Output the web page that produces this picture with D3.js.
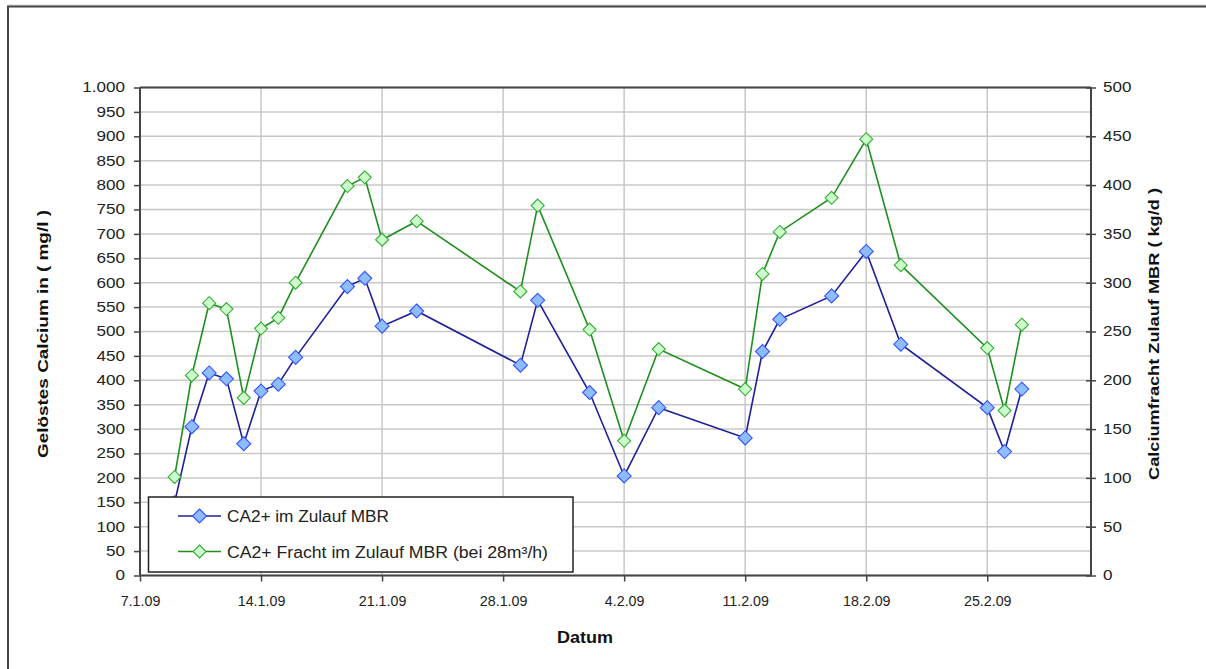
<!DOCTYPE html>
<html>
<head>
<meta charset="utf-8">
<script src="https://cdn.jsdelivr.net/npm/d3@7"></script>
<style>
  html, body { margin: 0; padding: 0; background: #fff; }
  svg { display: block; font-family: "Liberation Sans", Arial, sans-serif; }
</style>
</head>
<body>
<svg id="chart" width="1206" height="669"></svg>
<script>
// ---- data ----
const dates = ["2009-01-09","2009-01-10","2009-01-11","2009-01-12","2009-01-13","2009-01-14","2009-01-15","2009-01-16",
  "2009-01-19","2009-01-20","2009-01-21","2009-01-23","2009-01-29","2009-01-30","2009-02-02","2009-02-04","2009-02-06",
  "2009-02-11","2009-02-12","2009-02-13","2009-02-16","2009-02-18","2009-02-20","2009-02-25","2009-02-26","2009-02-27"];
const concentration = [149, 305, 415, 403, 270, 378, 392, 447, 592, 609, 511, 542, 431, 564, 375, 204, 344,
  282, 459, 525, 573, 664, 474, 344, 254, 382];
const load = [101, 205, 279, 273, 182, 253, 264, 300, 399, 408, 344, 363, 291, 379, 252, 138, 232,
  191, 309, 352, 387, 447, 318, 233, 169, 257];
const xTickLabels = ["7.1.09","14.1.09","21.1.09","28.1.09","4.2.09","11.2.09","18.2.09","25.2.09"];
const leftTicks = [0,50,100,150,200,250,300,350,400,450,500,550,600,650,700,750,800,850,900,950,1000];
const rightTicks = [0,50,100,150,200,250,300,350,400,450,500];
const seriesNames = ["CA2+ im Zulauf MBR", "CA2+ Fracht im Zulauf MBR (bei 28m³/h)"];
const titles = { x: "Datum", yLeft: "Gelöstes Calcium in ( mg/l )", yRight: "Calciumfracht Zulauf MBR ( kg/d )" };

// ---- layout ----
const svg = d3.select("#chart");
const L = 140, R = 1091, T = 87.5, B = 575.5;
const parse = d3.timeParse("%Y-%m-%d");
const x = d3.scaleTime().domain([parse("2009-01-07"), parse("2009-03-03")]).range([L, R]);
const yL = d3.scaleLinear().domain([0, 1000]).range([B, T]);
const yR = d3.scaleLinear().domain([0, 500]).range([B, T]);
const tickDates = d3.timeDay.range(parse("2009-01-07"), parse("2009-03-01"), 7);

// outer frame
svg.append("line").attr("x1", 8).attr("x2", 1206).attr("y1", 5).attr("y2", 5).attr("stroke", "#ccc").attr("stroke-width", 1);
svg.append("rect").attr("x", 8).attr("y", 6.5).attr("width", 1220).attr("height", 700)
  .attr("fill", "none").attr("stroke", "#444").attr("stroke-width", 2);

// gridlines
const g = svg.append("g");
g.selectAll("line.h").data(leftTicks).join("line")
  .attr("x1", L).attr("x2", R).attr("y1", d => yL(d)).attr("y2", d => yL(d))
  .attr("stroke", "#c8c8c8").attr("stroke-width", 1.5);
g.selectAll("line.v").data(tickDates.slice(1)).join("line")
  .attr("x1", d => x(d)).attr("x2", d => x(d)).attr("y1", T).attr("y2", B)
  .attr("stroke", "#c8c8c8").attr("stroke-width", 1.5);
g.append("line").attr("x1", L).attr("x2", R).attr("y1", T).attr("y2", T).attr("stroke", "#444").attr("stroke-width", 2);

// axes
const fmtL = d => d === 1000 ? "1.000" : String(d);
const axL = svg.append("g").attr("transform", `translate(${L},0)`)
  .call(d3.axisLeft(yL).tickValues(leftTicks).tickFormat(fmtL).tickSize(6).tickPadding(9));
const axR = svg.append("g").attr("transform", `translate(${R},0)`)
  .call(d3.axisRight(yR).tickValues(rightTicks).tickSize(5).tickPadding(7));
axR.selectAll(".tick line").attr("x1", -5);
const axB = svg.append("g").attr("transform", `translate(0,${B})`)
  .call(d3.axisBottom(x).tickValues(tickDates).tickFormat((d, i) => xTickLabels[i]).tickSize(6).tickPadding(14));
[axL, axR, axB].forEach(a => {
  a.select(".domain").attr("stroke", "#444").attr("stroke-width", 2);
  a.selectAll(".tick line").attr("stroke", "#444").attr("stroke-width", 1.5);
  a.selectAll(".tick text").attr("fill", "#222").style("font-size", "14px")
    .style("font-family", "'Liberation Sans', Arial, sans-serif");
});
axB.selectAll(".tick text").style("font-size", "15px");
// widen y tick labels / condense x tick labels slightly like the reference
[axL, axR].forEach(a => a.selectAll(".tick text").each(function () {
  const w = this.getComputedTextLength();
  d3.select(this).attr("textLength", w * 1.22).attr("lengthAdjust", "spacingAndGlyphs");
}));
axB.selectAll(".tick text").each(function () {
  const w = this.getComputedTextLength();
  d3.select(this).attr("textLength", w * 0.95).attr("lengthAdjust", "spacingAndGlyphs");
});
axL.select(".domain").attr("d", `M0,${T}V${B}`);
axR.select(".domain").attr("d", `M0,${T}V${B}`);
axB.select(".domain").attr("d", `M${L},0H${R}`);

// titles
svg.append("text").attr("x", 585).attr("y", 643).attr("text-anchor", "middle")
  .style("font-size", "16px").style("font-weight", "bold").attr("fill", "#111")
  .attr("textLength", 56).attr("lengthAdjust", "spacingAndGlyphs").text(titles.x);
svg.append("text").attr("transform", "translate(48,334) rotate(-90)").attr("text-anchor", "middle")
  .style("font-size", "15px").style("font-weight", "bold").attr("fill", "#111")
  .attr("textLength", 248).attr("lengthAdjust", "spacingAndGlyphs").text(titles.yLeft);
svg.append("text").attr("transform", "translate(1159,334) rotate(-90)").attr("text-anchor", "middle")
  .style("font-size", "15px").style("font-weight", "bold").attr("fill", "#111")
  .attr("textLength", 292).attr("lengthAdjust", "spacingAndGlyphs").text(titles.yRight);

// series
const pts1 = dates.map((d, i) => ({ x: x(parse(d)), y: yL(concentration[i]) }));
const pts2 = dates.map((d, i) => ({ x: x(parse(d)), y: yR(load[i]) }));
const line = d3.line().x(d => d.x).y(d => d.y);
const diamond = r => `M0,${-r}L${r},0L0,${r}L${-r},0Z`;

function drawSeries(pts, lineColor, fill, stroke, r) {
  const s = svg.append("g");
  s.append("path").attr("d", line(pts)).attr("fill", "none").attr("stroke", lineColor).attr("stroke-width", 1.6);
  s.selectAll("path.m").data(pts).join("path").attr("class", "m")
    .attr("transform", d => `translate(${d.x},${d.y})`)
    .attr("d", diamond(r)).attr("fill", fill).attr("stroke", stroke).attr("stroke-width", 1.1);
}
drawSeries(pts1, "#1f1f99", "#8fbcff", "#3355ff", 7);
drawSeries(pts2, "#1e8f1e", "#ccffcc", "#33aa33", 6.5);

// legend
const lg = svg.append("g");
lg.append("rect").attr("x", 148.5).attr("y", 497).attr("width", 424.5).attr("height", 75)
  .attr("fill", "#fff").attr("stroke", "#222").attr("stroke-width", 1.5);
const legendItems = [
  { name: seriesNames[0], y: 516, lc: "#1f1f99", f: "#8fbcff", s: "#3355ff", r: 7, w: 162 },
  { name: seriesNames[1], y: 551.5, lc: "#1e8f1e", f: "#ccffcc", s: "#33aa33", r: 6.5, w: 321 }
];
legendItems.forEach(it => {
  lg.append("line").attr("x1", 178).attr("x2", 221).attr("y1", it.y).attr("y2", it.y)
    .attr("stroke", it.lc).attr("stroke-width", 1.6);
  lg.append("path").attr("transform", `translate(199.5,${it.y})`).attr("d", diamond(it.r))
    .attr("fill", it.f).attr("stroke", it.s).attr("stroke-width", 1.1);
  lg.append("text").attr("x", 227).attr("y", it.y + 6).style("font-size", "16px").attr("fill", "#222")
    .attr("textLength", it.w).attr("lengthAdjust", "spacingAndGlyphs").text(it.name);
});
</script>
</body>
</html>
